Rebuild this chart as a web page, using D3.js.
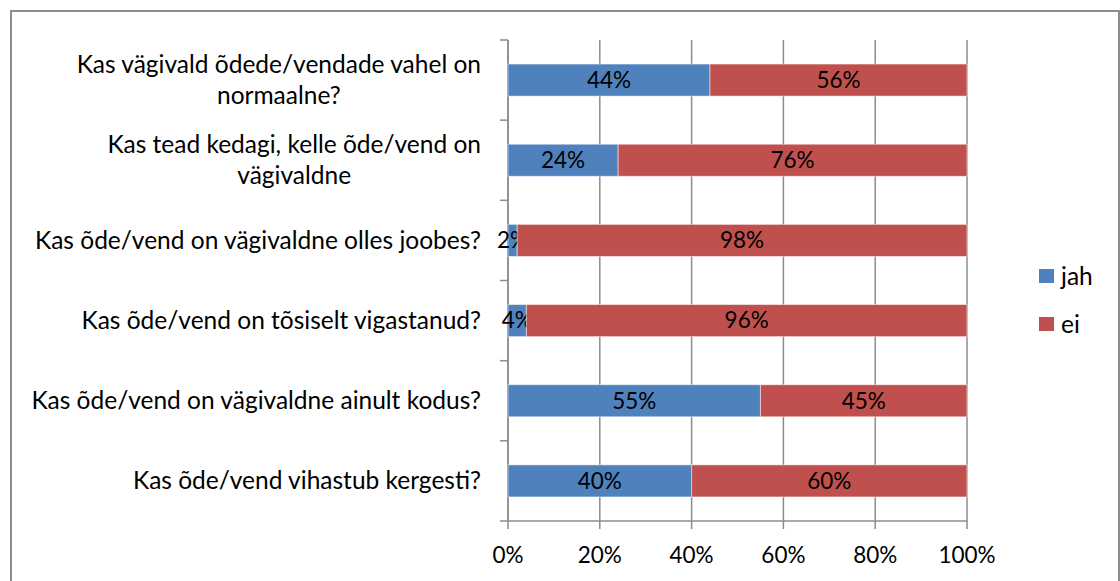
<!DOCTYPE html>
<html lang="et">
<head>
<meta charset="UTF-8">
<title>Õed/vennad</title>
<script src="https://d3js.org/d3.v7.min.js"></script>
<style>
  body { margin: 0; background: #fff; }
  svg text { font-family: Lato, "Liberation Sans", sans-serif; fill: #000; }
</style>
</head>
<body>
<svg id="chart" width="1120" height="581"></svg>
<script>
// andmed
var questions = [
  ["Kas vägivald õdede/vendade vahel on", "normaalne?"],
  ["Kas tead kedagi, kelle õde/vend on", "vägivaldne"],
  ["Kas õde/vend on vägivaldne olles joobes?"],
  ["Kas õde/vend on tõsiselt vigastanud?"],
  ["Kas õde/vend on vägivaldne ainult kodus?"],
  ["Kas õde/vend vihastub kergesti?"]
];
var jah = [44, 24, 2, 4, 55, 40];
var ei = [56, 76, 98, 96, 45, 60];
var seriesNames = ["jah", "ei"];
var colors = ["#4F81BD", "#C0504D"];
var xTicks = [0, 20, 40, 60, 80, 100];

var fsLabel = 24.5, fsNum = 22.5;
var svg = d3.select("#chart");

// välimine raam
svg.append("rect")
  .attr("x", 11).attr("y", 11)
  .attr("width", 1108).attr("height", 600)
  .attr("fill", "none").attr("stroke", "#8c8c8c").attr("stroke-width", 2);

var pLeft = 508, pRight = 967, pTop = 40, pBottom = 521;

var x = d3.scaleLinear().domain([0, 100]).range([pLeft, pRight]);
var ids = d3.range(questions.length);
var y = d3.scaleBand().domain(ids).range([pTop, pBottom]).paddingInner(0.6).paddingOuter(0.3);

// ruudustik
svg.append("g").selectAll("line")
  .data(xTicks)
  .enter().append("line")
  .attr("x1", function(d) { return x(d); })
  .attr("x2", function(d) { return x(d); })
  .attr("y1", pTop).attr("y2", pBottom + 8)
  .attr("stroke", "#8c8c8c").attr("stroke-width", 1.5);

// y-telg
var bounds = ids.map(function(i) { return y(i) - y.step() * y.paddingOuter(); });
bounds.push(pBottom);
svg.append("line")
  .attr("x1", pLeft).attr("x2", pLeft).attr("y1", pTop).attr("y2", pBottom)
  .attr("stroke", "#8c8c8c").attr("stroke-width", 1.5);
svg.append("g").selectAll("line")
  .data(bounds)
  .enter().append("line")
  .attr("x1", pLeft - 8).attr("x2", pLeft)
  .attr("y1", function(d) { return d; }).attr("y2", function(d) { return d; })
  .attr("stroke", "#8c8c8c").attr("stroke-width", 1.5);
svg.append("line")
  .attr("x1", pLeft).attr("x2", pRight).attr("y1", pBottom).attr("y2", pBottom)
  .attr("stroke", "#8c8c8c").attr("stroke-width", 1.5);

// tulbad
var stacked = ids.map(function(i) { return [jah[i], ei[i]]; });
ids.forEach(function(i) {
  var start = 0;
  stacked[i].forEach(function(v, s) {
    svg.append("rect")
      .attr("x", x(start))
      .attr("y", y(i))
      .attr("width", x(start + v) - x(start))
      .attr("height", y.bandwidth())
      .attr("fill", colors[s])
      .attr("stroke", "#ffffff").attr("stroke-opacity", 0.5).attr("stroke-width", 1);
    svg.append("text")
      .attr("x", x(start + v / 2))
      .attr("y", y(i) + y.bandwidth() / 2)
      .attr("dy", "0.35em")
      .attr("text-anchor", "middle")
      .attr("font-size", fsNum)
      .text(v + "%");
    start += v;
  });
});

// küsimused
var labelRight = 481, lineH = 31;
ids.forEach(function(i) {
  var g = svg.append("g");
  var lines = questions[i];
  var cy = y(i) + y.bandwidth() / 2;
  var t = g.selectAll("text").data(lines).enter().append("text")
    .attr("font-size", fsLabel)
    .attr("text-anchor", "middle")
    .attr("dy", "0.35em")
    .attr("y", function(d, k) { return cy + (k - (lines.length - 1) / 2) * lineH; })
    .text(function(d) { return d; });
  var maxW = 0;
  t.each(function() { maxW = Math.max(maxW, this.getComputedTextLength()); });
  t.attr("x", labelRight - maxW / 2);
});

// x-telje sildid
svg.append("g").selectAll("text")
  .data(xTicks)
  .enter().append("text")
  .attr("x", function(d) { return x(d); })
  .attr("y", 563)
  .attr("text-anchor", "middle")
  .attr("font-size", fsNum)
  .text(function(d) { return d + "%"; });

// legend
var leg = svg.append("g");
seriesNames.forEach(function(n, k) {
  leg.append("rect")
    .attr("x", 1039).attr("y", 269 + k * 48)
    .attr("width", 15).attr("height", 14)
    .attr("fill", colors[k]);
  leg.append("text")
    .attr("x", 1061).attr("y", 285 + k * 48)
    .attr("font-size", fsLabel)
    .text(n);
});
</script>
</body>
</html>
